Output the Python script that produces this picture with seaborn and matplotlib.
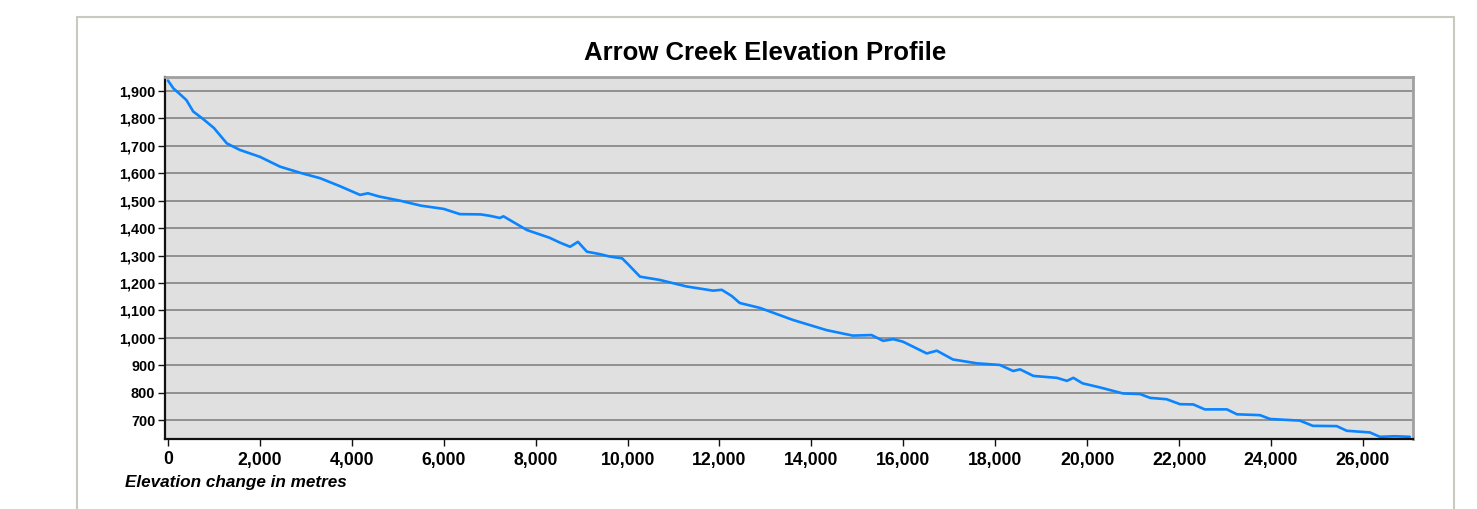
import matplotlib
matplotlib.use("Agg")
import matplotlib.pyplot as plt
from matplotlib.patches import Rectangle
from matplotlib.ticker import FuncFormatter, MultipleLocator
import pandas as pd
import seaborn as sns

# distance along creek (m) and elevation (m)
distance = [0, 115, 250, 400, 550, 770, 1000, 1280, 1565, 2000, 2440, 2870, 3310,
            3740, 4180, 4350, 4600, 5050, 5500, 6000, 6350, 6800, 7000, 7220, 7300,
            7810, 8300, 8530, 8750, 8920, 9115, 9400, 9620, 9880, 10000, 10270,
            10700, 11290, 11860, 12050, 12270, 12440, 12880, 13600, 14330, 14900,
            15310, 15560, 15780, 15990, 16510, 16730, 17080, 17600, 18100, 18390,
            18540, 18830, 19340, 19560, 19700, 19900, 20280, 20780, 21150, 21370,
            21730, 22020, 22310, 22560, 23040, 23260, 23760, 23980, 24630, 24910,
            25430, 25650, 26150, 26370, 26700, 27020]
elevation = [1938, 1910, 1890, 1867, 1825, 1797, 1765, 1709, 1685, 1660, 1624, 1602,
             1582, 1553, 1521, 1527, 1515, 1500, 1482, 1470, 1451, 1450, 1445, 1437,
             1443, 1393, 1365, 1347, 1332, 1350, 1314, 1305, 1296, 1290, 1270, 1223,
             1211, 1187, 1172, 1175, 1152, 1127, 1109, 1065, 1028, 1008, 1010, 989,
             995, 986, 943, 953, 921, 907, 901, 879, 885, 861, 854, 843, 854, 834,
             819, 797, 795, 781, 776, 758, 757, 739, 739, 721, 718, 704, 698, 679,
             678, 661, 655, 639, 641, 639]

df = pd.DataFrame({"distance": distance, "elevation": elevation})

sns.set_style("white")
plt.rcParams["font.family"] = ["Liberation Sans", "DejaVu Sans"]
plt.rcParams["text.color"] = "black"
plt.rcParams["xtick.color"] = "black"
plt.rcParams["ytick.color"] = "black"

fig = plt.figure(figsize=(14.77, 5.09), dpi=100)
ax = fig.add_axes([165 / 1477, 70 / 509, 1248 / 1477, 362 / 509])

sns.lineplot(data=df, x="distance", y="elevation", ax=ax, color="#0a84ff", lw=1.9)

ax.set_facecolor("#e0e0e0")
ax.set_xlim(-65, 27090)
ax.set_ylim(631, 1951)
ax.xaxis.set_major_locator(MultipleLocator(2000))
ax.yaxis.set_major_locator(MultipleLocator(100))
fmt = FuncFormatter(lambda v, p: f"{int(v):,}")
ax.xaxis.set_major_formatter(fmt)
ax.yaxis.set_major_formatter(fmt)
ax.grid(axis="y", color="#8a8a8a", lw=1.3)
ax.set_axisbelow(True)
ax.set_xlabel("")
ax.set_ylabel("")

for s in ["left", "bottom"]:
    ax.spines[s].set_color("#111111")
    ax.spines[s].set_linewidth(1.6)
for s in ["top", "right"]:
    ax.spines[s].set_color("#a0a0a0")
    ax.spines[s].set_linewidth(2)

ax.tick_params(axis="y", direction="out", length=5, width=1, color="#111111",
               labelcolor="black", labelsize=10.4, pad=2)
ax.tick_params(axis="x", direction="out", length=5, width=1, color="#111111",
               labelcolor="black", labelsize=12.7, pad=4)
ax.tick_params(left=True, bottom=True)
for lab in ax.get_xticklabels() + ax.get_yticklabels():
    lab.set_fontweight("bold")

# outer chart frame
fig.patches.append(Rectangle((77 / 1477, -0.1), 1377 / 1477, 1.1 - 17 / 509,
                             transform=fig.transFigure, fill=False,
                             edgecolor="#c9c9bf", lw=1.5, clip_on=False))

fig.text(765 / 1477, 1 - 53 / 509, "Arrow Creek Elevation Profile",
         ha="center", va="center", fontsize=18.5, fontweight="bold", color="black")
fig.text(125 / 1477, 1 - 483 / 509, "Elevation change in metres",
         ha="left", va="center", fontsize=12.3, fontweight="bold", fontstyle="italic",
         color="black")

fig.savefig("out.png", dpi=100)
